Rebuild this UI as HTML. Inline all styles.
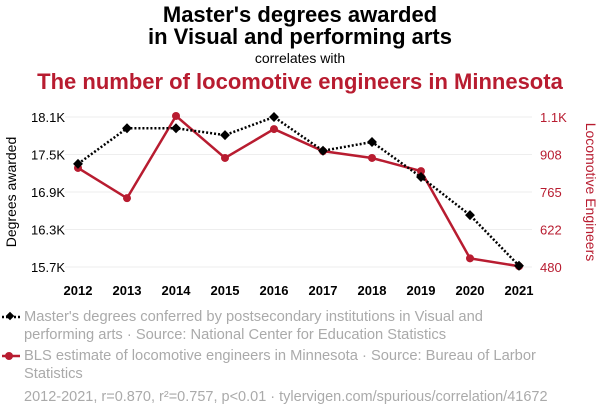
<!DOCTYPE html>
<html><head><meta charset="utf-8"><style>
body{margin:0;background:#fff;font-family:"Liberation Sans",sans-serif;}
svg text{font-family:"Liberation Sans",sans-serif;}
</style></head><body>
<svg id="chart" width="600" height="414" viewBox="0 0 600 414">
<text x="300" y="22" text-anchor="middle" font-size="22" font-weight="bold" fill="#000">Master's degrees awarded</text>
<text x="300" y="44" text-anchor="middle" font-size="22" font-weight="bold" fill="#000">in Visual and performing arts</text>
<text x="300" y="63" text-anchor="middle" font-size="14" fill="#000">correlates with</text>
<text x="300" y="89" text-anchor="middle" font-size="22" font-weight="bold" fill="#b81c30">The number of locomotive engineers in Minnesota</text>
<g id="grid"></g><g id="axes"></g><g id="series"></g>
<text transform="translate(16,192) rotate(-90)" text-anchor="middle" font-size="14" fill="#000">Degrees awarded</text>
<text transform="translate(586,192) rotate(90)" text-anchor="middle" font-size="14" fill="#b81c30">Locomotive Engineers</text>
<g>
<line x1="2" y1="317" x2="20" y2="317" stroke="#000" stroke-width="2.5" stroke-dasharray="2,2"/>
<rect x="7" y="313" width="6" height="6" transform="rotate(45 10 316)" fill="#000"/>
<text x="24" y="321" font-size="14.7" fill="#aaa">Master's degrees conferred by postsecondary institutions in Visual and</text>
<text x="24" y="339" font-size="14.7" fill="#aaa">performing arts · Source: National Center for Education Statistics</text></g>
<g>
<line x1="2" y1="356" x2="20" y2="356" stroke="#b81c30" stroke-width="2.5"/>
<circle cx="9" cy="356" r="4" fill="#b81c30"/>
<text x="24" y="360" font-size="14.7" fill="#aaa">BLS estimate of locomotive engineers in Minnesota · Source: Bureau of Larbor</text>
<text x="24" y="378" font-size="14.7" fill="#aaa">Statistics</text></g>
<text x="24" y="401" font-size="14.5" fill="#aaa">2012-2021, r=0.870, r²=0.757, p&lt;0.01 · tylervigen.com/spurious/correlation/41672</text>
</svg>
<script>
const years=[2012,2013,2014,2015,2016,2017,2018,2019,2020,2021];
const degrees=[17350,17920,17920,17810,18100,17560,17700,17140,16530,15720];
const engineers=[857,742,1055,895,1005,921,895,845,513,483];
const leftTicks=[15700,16300,16900,17500,18100];
const leftLabels=["15.7K","16.3K","16.9K","17.5K","18.1K"];
const rightTicks=[480,622,765,908,1051];
const rightLabels=["480","622","765","908","1.1K"];
const NS="http://www.w3.org/2000/svg";
const x=y=>78+(y-2012)*49;
const yl=v=>267-(v-15700)/600*37.5;
const yr=v=>267-(v-480)/571*150;
function mk(t,a,p){const e=document.createElementNS(NS,t);for(const k in a)e.setAttribute(k,a[k]);document.getElementById(p).appendChild(e);return e;}
leftTicks.forEach((v,i)=>{
 const g=mk('line',{x1:65,x2:532,y1:yl(v),y2:yl(v),stroke:'#eee'},'grid');
 
 
 const t=mk('text',{x:65,y:yl(v)+5,'text-anchor':'end','font-size':13,fill:'#000'},'axes');t.textContent=leftLabels[i];
 
 
});
rightTicks.forEach((v,i)=>{
 const t=mk('text',{x:540,y:yr(v)+5,'font-size':13,fill:'#b81c30'},'axes');t.textContent=rightLabels[i];
 
 
});
years.forEach(y=>{
 const t=mk('text',{x:x(y),y:295,'text-anchor':'middle','font-size':13,'font-weight':'bold',fill:'#000'},'axes');t.textContent=y;
 
 
});
const rl=mk('polyline',{points:years.map((y,i)=>x(y)+','+yr(engineers[i])).join(' '),fill:'none',stroke:'#b81c30','stroke-width':2.5},'series');


const bl=mk('polyline',{points:years.map((y,i)=>x(y)+','+yl(degrees[i])).join(' '),fill:'none',stroke:'#000','stroke-width':2.5,'stroke-dasharray':'2,2'},'series');


years.forEach((y,i)=>{
 const c=mk('circle',{cx:x(y),cy:yr(engineers[i]),r:4,fill:'#b81c30'},'series');
 
 
 const cx=x(y),cy=yl(degrees[i]);
 const d=mk('rect',{x:cx-3.5,y:cy-3.5,width:7,height:7,fill:'#000',transform:`rotate(45 ${cx} ${cy})`},'series');
 
 
});
</script>
</body></html>
